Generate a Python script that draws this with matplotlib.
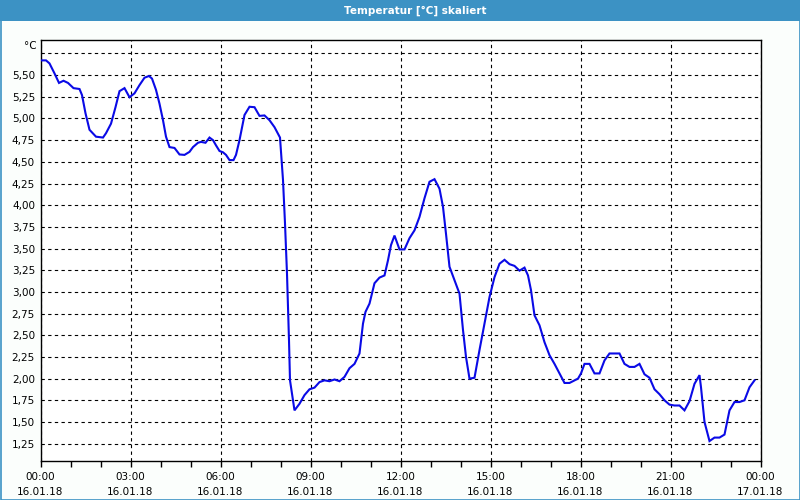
import matplotlib
matplotlib.use("Agg")
import matplotlib.pyplot as plt
from matplotlib.patches import Rectangle
from matplotlib.ticker import FixedLocator, FixedFormatter, MultipleLocator

# ---- data ----
times = ["00:00", "00:11", "00:18", "00:28", "00:37", "00:46", "00:55", "01:06", "01:18", "01:23",
         "01:30", "01:38", "01:51", "02:05", "02:11", "02:21", "02:30", "02:38", "02:48", "02:58",
         "03:08", "03:18", "03:28", "03:37", "03:43", "03:51", "03:58", "04:05", "04:11", "04:18",
         "04:28", "04:38", "04:48", "04:58", "05:05", "05:15", "05:21", "05:30", "05:38", "05:45",
         "05:51", "05:58", "06:05", "06:11", "06:18", "06:26", "06:31", "06:38", "06:48", "06:58",
         "07:08", "07:18", "07:28", "07:38", "07:48", "07:59", "08:05", "08:09", "08:13", "08:17",
         "08:19", "08:28", "08:38", "08:48", "08:58", "09:08", "09:18", "09:28", "09:38", "09:48",
         "09:58", "10:08", "10:18", "10:28", "10:38", "10:45", "10:50", "10:58", "11:08", "11:18",
         "11:28", "11:35", "11:41", "11:48", "11:58", "12:08", "12:18", "12:28", "12:38", "12:48",
         "12:58", "13:08", "13:18", "13:25", "13:31", "13:38", "13:48", "13:58", "14:05", "14:11",
         "14:18", "14:28", "14:38", "14:48", "14:58", "15:08", "15:18", "15:28", "15:38", "15:48",
         "15:58", "16:08", "16:15", "16:21", "16:28", "16:38", "16:48", "16:58", "17:08", "17:18",
         "17:28", "17:38", "17:55", "18:01", "18:08", "18:18", "18:28", "18:38", "18:48", "18:58",
         "19:18", "19:28", "19:38", "19:48", "19:58", "20:08", "20:18", "20:28", "20:38", "20:48",
         "20:58", "21:08", "21:18", "21:28", "21:38", "21:48", "21:58", "22:01", "22:08", "22:18",
         "22:28", "22:38", "22:48", "22:58", "23:08", "23:18", "23:28", "23:38", "23:48"]
temps = [5.67, 5.67, 5.635, 5.52, 5.41, 5.435, 5.41, 5.35, 5.34, 5.27,
         5.06, 4.87, 4.79, 4.78, 4.83, 4.94, 5.13, 5.315, 5.35, 5.245,
         5.29, 5.385, 5.47, 5.49, 5.46, 5.33, 5.17, 4.98, 4.79, 4.67,
         4.66, 4.585, 4.58, 4.615, 4.67, 4.72, 4.73, 4.72, 4.78, 4.75,
         4.69, 4.625, 4.61, 4.58, 4.52, 4.52, 4.58, 4.75, 5.04, 5.135,
         5.13, 5.03, 5.035, 4.98, 4.90, 4.78, 4.29, 3.79, 3.21, 2.44,
         1.98, 1.634, 1.71, 1.81, 1.877, 1.896, 1.96, 1.98, 1.97, 1.99,
         1.97, 2.02, 2.12, 2.17, 2.29, 2.635, 2.77, 2.865, 3.10, 3.165,
         3.19, 3.365, 3.54, 3.65, 3.49, 3.49, 3.62, 3.71, 3.865, 4.08,
         4.27, 4.30, 4.19, 3.98, 3.67, 3.29, 3.135, 2.98, 2.56, 2.25,
         2.00, 2.01, 2.33, 2.635, 2.94, 3.17, 3.325, 3.37, 3.32, 3.30,
         3.245, 3.28, 3.19, 3.02, 2.73, 2.615, 2.42, 2.27, 2.17, 2.06,
         1.95, 1.95, 2.00, 2.06, 2.17, 2.17, 2.06, 2.06, 2.21, 2.29,
         2.29, 2.17, 2.135, 2.135, 2.17, 2.05, 2.01, 1.877, 1.82, 1.75,
         1.70, 1.69, 1.69, 1.634, 1.74, 1.94, 2.04, 1.90, 1.50, 1.28,
         1.32, 1.32, 1.355, 1.634, 1.73, 1.73, 1.75, 1.90, 1.98]

x_tick_hours = [0, 3, 6, 9, 12, 15, 18, 21, 24]
x_tick_labels = ["00:00\n16.01.18", "03:00\n16.01.18", "06:00\n16.01.18", "09:00\n16.01.18",
                 "12:00\n16.01.18", "15:00\n16.01.18", "18:00\n16.01.18", "21:00\n16.01.18",
                 "00:00\n17.01.18"]
y_ticks = [1.25, 1.50, 1.75, 2.00, 2.25, 2.50, 2.75, 3.00, 3.25, 3.50, 3.75, 4.00,
           4.25, 4.50, 4.75, 5.00, 5.25, 5.50, 5.75]
y_tick_labels = ["1,25", "1,50", "1,75", "2,00", "2,25", "2,50", "2,75", "3,00", "3,25",
                 "3,50", "3,75", "4,00", "4,25", "4,50", "4,75", "5,00", "5,25", "5,50", ""]
title = "Temperatur [°C] skaliert"
unit = "°C"

hours = [int(t[:2]) + int(t[3:]) / 60 for t in times]

plt.rcParams['font.family'] = ['DejaVu Sans']
BLUE_BAR = "#3c92c4"
BG = "#fbfefc"

fig = plt.figure(figsize=(8, 5), dpi=100, facecolor=BG)

# window chrome: title bar and border
fig.patches.append(Rectangle((0, 1 - 21 / 500), 1, 21 / 500, transform=fig.transFigure,
                             facecolor=BLUE_BAR, edgecolor="none", zorder=0))
fig.patches.append(Rectangle((0.5 / 800, 0.5 / 500), 799 / 800, 499 / 500, transform=fig.transFigure,
                             facecolor="none", edgecolor=BLUE_BAR, linewidth=1.2, zorder=1))
fig.text(415 / 800, 1 - 10.5 / 500, title, color="white", fontsize=7.5, fontweight="bold",
         ha="center", va="center")
fig.text(37 / 800, 1 - 46 / 500, unit, fontsize=7.5, ha="right", va="center", color="black")

ax = fig.add_axes([40.5 / 800, 1 - 461 / 500, 720 / 800, 421 / 500])
ax.set_facecolor("white")
ax.plot(hours, temps, color="#0a0ae6", linewidth=1.5, solid_joinstyle="miter", zorder=3)

ax.set_xlim(0, 24)
ax.set_ylim(1.05, 5.905)

ax.xaxis.set_major_locator(FixedLocator(x_tick_hours))
ax.xaxis.set_major_formatter(FixedFormatter(x_tick_labels))
ax.xaxis.set_minor_locator(MultipleLocator(1))
ax.yaxis.set_major_locator(FixedLocator(y_ticks))
ax.yaxis.set_major_formatter(FixedFormatter(y_tick_labels))

ax.tick_params(axis="x", which="both", direction="out", length=4, width=1, color="black",
               labelsize=7.5, pad=4)
ax.tick_params(axis="y", which="both", length=0, labelsize=7.5, pad=4)
for lbl in ax.get_xticklabels():
    lbl.set_linespacing(1.55)

ax.grid(True, which="major", color="black", linestyle=(0, (3, 3)), linewidth=0.8)
for s in ax.spines.values():
    s.set_color("black")
    s.set_linewidth(1.0)

fig.savefig("out.png", dpi=100, facecolor=BG)
